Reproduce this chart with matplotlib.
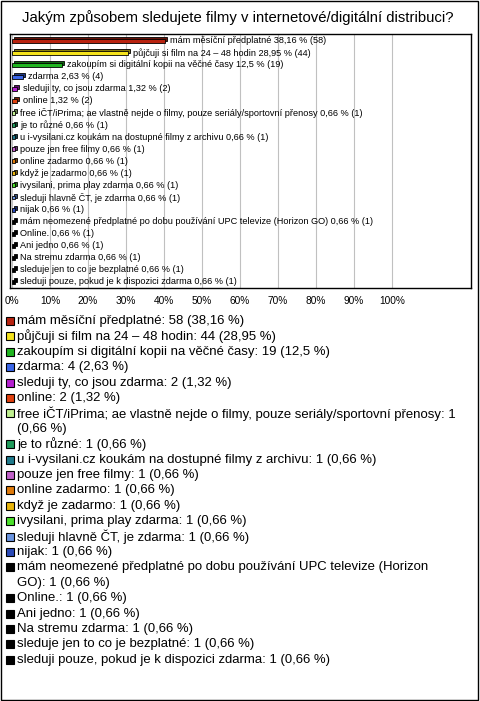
import matplotlib.pyplot as plt
import matplotlib.patches as patches
import matplotlib.colors as mcolors

plt.rcParams['font.family'] = ['Liberation Sans', 'DejaVu Sans']

title = 'Jakým způsobem sledujete filmy v internetové/digitální distribuci?'

categories = [
    'mám měsíční předplatné',
    'půjčuji si film na 24 – 48 hodin',
    'zakoupím si digitální kopii na věčné časy',
    'zdarma',
    'sleduji ty, co jsou zdarma',
    'online',
    'free iČT/iPrima; ae vlastně nejde o filmy, pouze seriály/sportovní přenosy',
    'je to různé',
    'u i-vysilani.cz koukám na dostupné filmy z archivu',
    'pouze jen free filmy',
    'online zadarmo',
    'když je zadarmo',
    'ivysilani, prima play zdarma',
    'sleduji hlavně ČT, je zdarma',
    'nijak',
    'mám neomezené předplatné po dobu používání UPC televize (Horizon GO)',
    'Online.',
    'Ani jedno',
    'Na stremu zdarma',
    'sleduje jen to co je bezplatné',
    'sleduji pouze, pokud je k dispozici zdarma',
]
counts = [58, 44, 19, 4, 2, 2, 1, 1, 1, 1, 1, 1, 1, 1, 1, 1, 1, 1, 1, 1, 1]
percents = ['38,16', '28,95', '12,5', '2,63', '1,32', '1,32', '0,66', '0,66', '0,66', '0,66',
            '0,66', '0,66', '0,66', '0,66', '0,66', '0,66', '0,66', '0,66', '0,66', '0,66', '0,66']
colors = ['#b8220f', '#f5e31c', '#1fb51f', '#3b66e8', '#b51fd0', '#e0400f', '#c0f090',
          '#1f9a5a', '#1f7a8c', '#c060c8', '#e07a0a', '#e8b40a', '#4be02a', '#6a94e0',
          '#2a4ab8', '#000000', '#000000', '#000000', '#000000', '#000000', '#000000']
xticks = [0, 10, 20, 30, 40, 50, 60, 70, 80, 90, 100]

W, H = 480, 701
total = sum(counts)
fig = plt.figure(figsize=(W / 100, H / 100), dpi=100)

# outer frame
fig.patches.append(patches.Rectangle((1 / W, 1 / H), 477 / W, 699 / H, transform=fig.transFigure,
                                     fill=False, edgecolor='black', linewidth=1))
fig.text(238 / W, 1 - 18 / H, title, ha='center', va='center', fontsize=10.7)

ax = fig.add_axes([10 / W, 1 - 288 / H, 461 / W, 254 / H])
ax.set_xlim(-0.53, 120.8)
ax.set_ylim(len(categories) - 0.5, -0.55)
for t in xticks:
    ax.axvline(t, color='#c0c0c0', linewidth=0.8, zorder=0)

bh = 0.33
for i, (c, n) in enumerate(zip(categories, counts)):
    v = n / total * 100
    dark = [x * 0.55 for x in mcolors.to_rgb(colors[i])]
    ax.barh(i - 0.13, v, left=0.55, height=bh, color=dark, edgecolor='black', linewidth=0.6, zorder=2)
    ax.barh(i, v, height=bh, color=colors[i], edgecolor='black', linewidth=0.6, zorder=3)
    ax.text(v + 1.4, i, f'{c} {percents[i]} % ({n})', fontsize=6.6, va='center', ha='left', zorder=4)

ax.set_xticks(xticks)
ax.set_xticklabels([f'{t}%' for t in xticks], fontsize=7.3)
ax.tick_params(axis='x', length=0, pad=6)
ax.set_yticks([])
for s in ax.spines.values():
    s.set_linewidth(1)

# legend
fig.canvas.draw()
renderer = fig.canvas.get_renderer()
fs = 9.45
maxw = 441
y = 321
for i, (c, n) in enumerate(zip(categories, counts)):
    label = f'{c}: {n} ({percents[i]} %)'
    words = label.split(' ')
    lines, cur = [], ''
    for w in words:
        test = (cur + ' ' + w).strip()
        t = fig.text(0, 0, test, fontsize=fs)
        tw = t.get_window_extent(renderer).width
        t.remove()
        if tw > maxw and cur:
            lines.append(cur)
            cur = w
        else:
            cur = test
    lines.append(cur)
    fig.patches.append(patches.Rectangle((6 / W, 1 - (y + 4) / H), 8 / W, 8 / H, transform=fig.transFigure,
                                         facecolor=colors[i], edgecolor='black', linewidth=0.8))
    for ln in lines:
        fig.text(17 / W, 1 - y / H, ln, fontsize=fs, va='center', ha='left')
        y += 15.4

fig.savefig('out.png', dpi=100)
